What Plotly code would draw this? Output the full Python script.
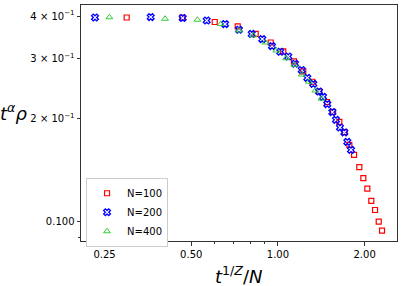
import plotly.graph_objects as go

# N=100
x100 = [0.2985, 0.4656, 0.6034, 0.7250, 0.8374, 0.944, 1.044, 1.137, 1.225, 1.316,
        1.392, 1.481, 1.554, 1.634, 1.706, 1.770, 1.838, 1.917, 1.980, 2.044,
        2.110, 2.174, 2.239, 2.299]
y100 = [0.3963, 0.3963, 0.3844, 0.3732, 0.3547, 0.3348, 0.3152, 0.2946, 0.2754, 0.2569,
        0.2406, 0.2240, 0.2098, 0.1961, 0.1829, 0.1679, 0.1569, 0.1444, 0.1341, 0.1250,
        0.1150, 0.1082, 0.1000, 0.0941]
# N=200
x200 = [0.2317, 0.3617, 0.4671, 0.5659, 0.6553, 0.7325, 0.8110, 0.8828, 0.9539, 1.0193,
        1.0867, 1.1467, 1.2097, 1.2652, 1.3273, 1.3890, 1.4341, 1.4841, 1.5448, 1.5909,
        1.6427, 1.7004, 1.7418, 1.7939]
y200 = [0.3963, 0.3974, 0.3948, 0.3884, 0.3791, 0.3649, 0.3547, 0.3426, 0.3268, 0.3145,
        0.3047, 0.2901, 0.2780, 0.2638, 0.2533, 0.2406, 0.2321, 0.2209, 0.2093, 0.1987,
        0.1887, 0.1826, 0.1713, 0.1623]
# N=400
x400 = [0.2598, 0.4055, 0.5251, 0.6332, 0.7325, 0.8215, 0.9042, 0.9873, 1.0669, 1.1400,
        1.2097, 1.2823, 1.3486, 1.4170]
y400 = [0.3969, 0.3929, 0.3903, 0.3791, 0.3631, 0.3511, 0.3348, 0.3172, 0.3010, 0.2881,
        0.2698, 0.2569, 0.2422, 0.2293]

x_ticks = [0.25, 0.5, 1.0, 2.0]
x_ticktext = ["0.25", "0.50", "1.00", "2.00"]
x_minor = [0.3, 0.4, 0.6, 0.7, 0.8, 0.9]
y_ticks = [0.1, 0.2, 0.3, 0.4]
y_ticktext = ["0.100", "2 × 10<sup>−1</sup>", "3 × 10<sup>−1</sup>", "4 × 10<sup>−1</sup>"]
y_minor = [0.09]

FONT = "DejaVu Sans"

fig = go.Figure()
fig.add_trace(go.Scatter(x=x100, y=y100, mode="markers", name="N=100",
                         marker=dict(symbol="square-open", size=5, color="#ff0000",
                                     line=dict(width=1.2, color="#ff0000"))))
fig.add_trace(go.Scatter(x=x200, y=y200, mode="markers", name="N=200",
                         marker=dict(symbol="x-open", size=6, color="#0000ff",
                                     line=dict(width=1.3, color="#0000ff"))))
fig.add_trace(go.Scatter(x=x400, y=y400, mode="markers", name="N=400",
                         marker=dict(symbol="triangle-up-open", size=6, color="#33cc33",
                                     line=dict(width=1.0, color="#33cc33"))))

axis_common = dict(showline=True, linecolor="#333333", linewidth=1, mirror=True,
                   ticks="outside", ticklen=3.5, tickwidth=0.8, tickcolor="#333333",
                   showgrid=False, zeroline=False, automargin=False,
                   tickfont=dict(family=FONT, size=10, color="#000000"))

fig.update_xaxes(type="log", range=[-0.6837, 0.4135], tickmode="array",
                 tickvals=x_ticks, ticktext=x_ticktext,
                 minor=dict(tickmode="array", tickvals=x_minor, ticks="outside",
                            ticklen=2, tickwidth=0.6, tickcolor="#333333", showgrid=False),
                 **axis_common)
fig.update_yaxes(type="log", range=[-1.0566, -0.3654], tickmode="array",
                 tickvals=y_ticks, ticktext=y_ticktext,
                 minor=dict(tickmode="array", tickvals=y_minor, ticks="outside",
                            ticklen=2, tickwidth=0.6, tickcolor="#333333", showgrid=False),
                 **axis_common)

fig.add_annotation(text="<i>t</i><sup><i>α</i></sup><i>ρ</i>", xref="paper", yref="paper",
                   x=-0.2125, y=0.545, xanchor="center", yanchor="middle", showarrow=False,
                   font=dict(family=FONT, size=18, color="#000000"))
fig.add_annotation(text="<i>t</i><sup>1/<i>Z</i></sup>/<i>N</i>", xref="paper", yref="paper",
                   x=0.5, y=-0.085, xanchor="center", yanchor="top", showarrow=False,
                   font=dict(family=FONT, size=18, color="#000000"))

fig.update_layout(
    width=403, height=286,
    margin=dict(l=81, r=6, t=5, b=45, autoexpand=False),
    plot_bgcolor="white", paper_bgcolor="white",
    showlegend=True,
    legend=dict(x=0.016, y=0.268, xanchor="left", yanchor="top",
                bgcolor="white", bordercolor="#cccccc", borderwidth=1,
                font=dict(family=FONT, size=10, color="#000000"),
                itemwidth=30, tracegroupgap=0),
)

fig.write_html("out.html", post_script="document.body.style.margin='0';",
               config={"displayModeBar": False})
